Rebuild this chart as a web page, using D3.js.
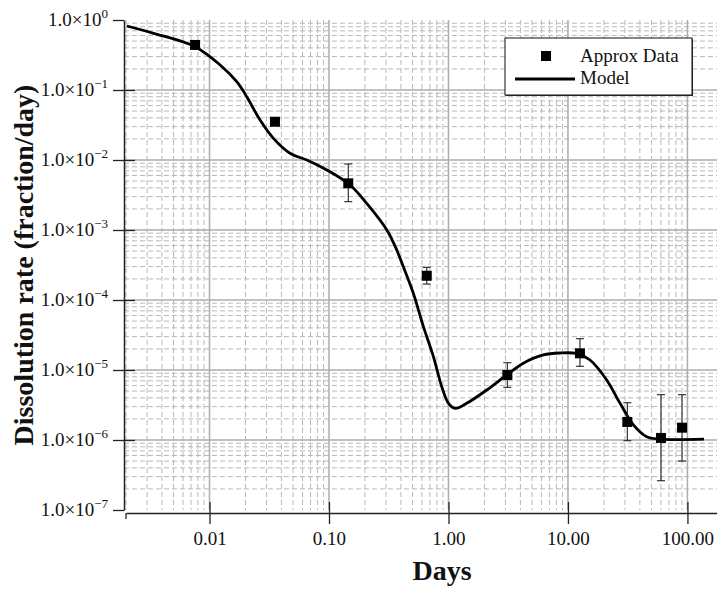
<!DOCTYPE html>
<html>
<head>
<meta charset="utf-8">
<script src="https://cdn.jsdelivr.net/npm/d3@7"></script>
<style>
  body { margin: 0; background: #fff; }
  text { font-family: "Liberation Serif", "Times New Roman", serif; fill: #111; }
</style>
</head>
<body>
<div id="chart"></div>
<script>
// measured points (days, fraction/day) with error bar ends
const dataDays = [0.00757, 0.0353, 0.145, 0.658, 3.11, 12.6, 31.4, 60.1, 90.1];
const dataRate = [0.44, 0.0352, 0.00464, 2.22e-4, 8.48e-6, 1.73e-5, 1.81e-6, 1.07e-6, 1.5e-6];
const errHigh = [null, null, 0.00877, 2.93e-4, 1.27e-5, 2.8e-5, 3.41e-6, 4.44e-6, 4.44e-6];
const errLow = [null, null, 0.00254, 1.69e-4, 5.66e-6, 1.13e-5, 9.77e-7, 2.62e-7, 5.0e-7];

// model curve
const modelDays = [0.00203, 0.0034, 0.00757, 0.01227, 0.0169, 0.0205, 0.0265, 0.0343, 0.0472, 0.0652,
  0.0959, 0.150, 0.207, 0.305, 0.369, 0.419, 0.508, 0.617, 0.748, 0.879, 1.0, 1.136, 1.42, 2.09,
  3.07, 4.23, 6.22, 8.59, 11.85, 15.3, 21.1, 27.3, 35.3, 45.6, 59.0, 137.7];
const modelRate = [0.821, 0.646, 0.416, 0.2276, 0.1314, 0.0802, 0.0373, 0.0204, 0.01247, 0.0100,
  0.0072, 0.0044, 0.0024, 0.001, 5.18e-4, 2.99e-4, 1.25e-4, 4.16e-5, 1.55e-5, 5.77e-6, 3.34e-6, 2.84e-6,
  3.34e-6, 5.18e-6, 8.49e-6, 1.25e-5, 1.64e-5, 1.75e-5, 1.72e-5, 1.39e-5, 7.2e-6, 3.34e-6, 1.64e-6,
  1.11e-6, 1.03e-6, 1.03e-6];

const xMajor = [0.01, 0.1, 1, 10, 100];
const xLabels = ['0.01', '0.10', '1.00', '10.00', '100.00'];
const yMajor = [1, 1e-1, 1e-2, 1e-3, 1e-4, 1e-5, 1e-6, 1e-7];
const yExp = ['0', '\u22121', '\u22122', '\u22123', '\u22124', '\u22125', '\u22126', '\u22127'];

const W = 717, H = 589;
const FONT = '"Liberation Serif", "Times New Roman", serif';
const svg = d3.select('#chart').append('svg').attr('width', W).attr('height', H)
  .attr('font-family', FONT);

const x = d3.scaleLog().domain([0.002, 200]).range([126, 723.4]);
const y = d3.scaleLog().domain([1e-7, 1]).range([510, 20]);

// minor values
const xMinor = [];
[0.001, 0.01, 0.1, 1, 10, 100].forEach(b => { for (let k = 2; k <= 9; k++) { const v = b * k; if (v >= 0.002 && v <= 200) xMinor.push(v); } });
const yMinor = [];
yMajor.slice(1).forEach(b => { for (let k = 2; k <= 9; k++) yMinor.push(b * k); });

// grid
const grid = svg.append('g');
grid.selectAll('.vmin').data(xMinor).enter().append('line')
  .attr('x1', d => x(d)).attr('x2', d => x(d)).attr('y1', 20).attr('y2', 510)
  .attr('stroke', '#b8b8b8').attr('stroke-width', 1).attr('stroke-dasharray', '5,3');
grid.selectAll('.hmin').data(yMinor).enter().append('line')
  .attr('x1', 124).attr('x2', W).attr('y1', d => y(d)).attr('y2', d => y(d))
  .attr('stroke', '#b8b8b8').attr('stroke-width', 1).attr('stroke-dasharray', '5,3');
grid.selectAll('.vmaj').data(xMajor).enter().append('line')
  .attr('x1', d => x(d)).attr('x2', d => x(d)).attr('y1', 20).attr('y2', 510)
  .attr('stroke', '#adadad').attr('stroke-width', 1.5);
grid.selectAll('.hmaj').data(yMajor.slice(1, -1)).enter().append('line')
  .attr('x1', 124).attr('x2', W).attr('y1', d => y(d)).attr('y2', d => y(d))
  .attr('stroke', '#adadad').attr('stroke-width', 1.5);

// x axis
const xAxisG = svg.append('g').attr('transform', 'translate(0,513)');
xAxisG.call(d3.axisBottom(x).tickValues(xMinor).tickSize(6).tickSizeOuter(0).tickFormat(''));
xAxisG.call(d3.axisBottom(x).tickValues(xMajor).tickSize(11).tickSizeOuter(0).tickFormat((d, i) => xLabels[i]));
xAxisG.attr('font-family', FONT);
xAxisG.selectAll('path.domain').attr('stroke', '#222').attr('stroke-width', 1.5);
xAxisG.selectAll('.tick line').attr('stroke', '#222').attr('stroke-width', 1.3);
xAxisG.selectAll('.tick').filter(d => xMajor.includes(d)).select('line').attr('y1', -11).attr('y2', 11);
xAxisG.selectAll('.tick text').attr('y', 32).attr('dy', 0)
  .attr('font-size', 19).attr('fill', '#111');
// left end tick
xAxisG.append('line').attr('x1', x(0.002)).attr('x2', x(0.002)).attr('y1', 0).attr('y2', 6)
  .attr('stroke', '#222').attr('stroke-width', 1.3);

// y axis
const yAxisG = svg.append('g').attr('transform', 'translate(124,0)');
yAxisG.call(d3.axisLeft(y).tickValues(yMinor).tickSize(6).tickSizeOuter(0).tickFormat(''));
yAxisG.call(d3.axisLeft(y).tickValues(yMajor).tickSize(11).tickSizeOuter(0).tickFormat(''));
yAxisG.attr('font-family', FONT);
yAxisG.selectAll('path.domain').attr('stroke', '#222').attr('stroke-width', 1.5);
yAxisG.selectAll('.tick line').attr('stroke', '#222').attr('stroke-width', 1.3);
yAxisG.selectAll('.tick').filter(d => yMajor.slice(1, -1).includes(d)).select('line').attr('x1', 11);
yAxisG.selectAll('.tick').filter(d => yMajor.includes(d)).each(function (d) {
  const i = yMajor.indexOf(d);
  const t = d3.select(this).select('text')
    .attr('x', -16).attr('dy', 0).attr('y', 5)
    .attr('font-size', 19).attr('fill', '#111')
    .attr('text-anchor', 'end');
  t.text(null);
  t.append('tspan').text('1.0\u00d710');
  t.append('tspan').attr('dy', -8).attr('font-size', 13).text(yExp[i]);
});

// axis titles
svg.append('text').attr('x', 442).attr('y', 580).attr('text-anchor', 'middle')
  .attr('font-size', 28).attr('font-weight', 'bold').text('Days');
svg.append('text').attr('transform', 'translate(33,265) rotate(-90)').attr('text-anchor', 'middle')
  .attr('font-size', 28).attr('font-weight', 'bold').text('Dissolution rate (fraction/day)');

// model curve
const model = modelDays.map((d, i) => ({ d: d, r: modelRate[i] }));
svg.append('path').datum(model)
  .attr('d', d3.line().x(p => x(p.d)).y(p => y(p.r)).curve(d3.curveCatmullRom.alpha(0.5)))
  .attr('fill', 'none').attr('stroke', '#000').attr('stroke-width', 2.8);

// error bars
const pts = dataDays.map((d, i) => ({ d: d, r: dataRate[i], hi: errHigh[i], lo: errLow[i] }));
const eb = svg.append('g').selectAll('g').data(pts.filter(p => p.hi !== null)).enter().append('g')
  .attr('stroke', '#222').attr('stroke-width', 1.1);
eb.append('line').attr('x1', p => x(p.d)).attr('x2', p => x(p.d)).attr('y1', p => y(p.hi)).attr('y2', p => y(p.lo));
eb.append('line').attr('x1', p => x(p.d) - 4).attr('x2', p => x(p.d) + 4).attr('y1', p => y(p.hi)).attr('y2', p => y(p.hi));
eb.append('line').attr('x1', p => x(p.d) - 4).attr('x2', p => x(p.d) + 4).attr('y1', p => y(p.lo)).attr('y2', p => y(p.lo));

// markers
svg.append('g').selectAll('rect').data(pts).enter().append('rect')
  .attr('x', p => x(p.d) - 5).attr('y', p => y(p.r) - 5).attr('width', 10).attr('height', 10)
  .attr('fill', '#000');

// legend
const lg = svg.append('g').attr('transform', 'translate(505,38)');
lg.append('rect').attr('x', 1).attr('y', 1).attr('width', 187).attr('height', 57).attr('fill', '#333');
lg.append('rect').attr('width', 187).attr('height', 57).attr('fill', '#fff').attr('stroke', '#111').attr('stroke-width', 1);
lg.append('rect').attr('x', 36).attr('y', 13).attr('width', 10).attr('height', 10).attr('fill', '#000');
lg.append('line').attr('x1', 10).attr('x2', 70).attr('y1', 41).attr('y2', 41).attr('stroke', '#000').attr('stroke-width', 2.8);
lg.append('text').attr('x', 75).attr('y', 24).attr('font-size', 19).text('Approx Data');
lg.append('text').attr('x', 75).attr('y', 46).attr('font-size', 19).text('Model');
</script>
</body>
</html>
